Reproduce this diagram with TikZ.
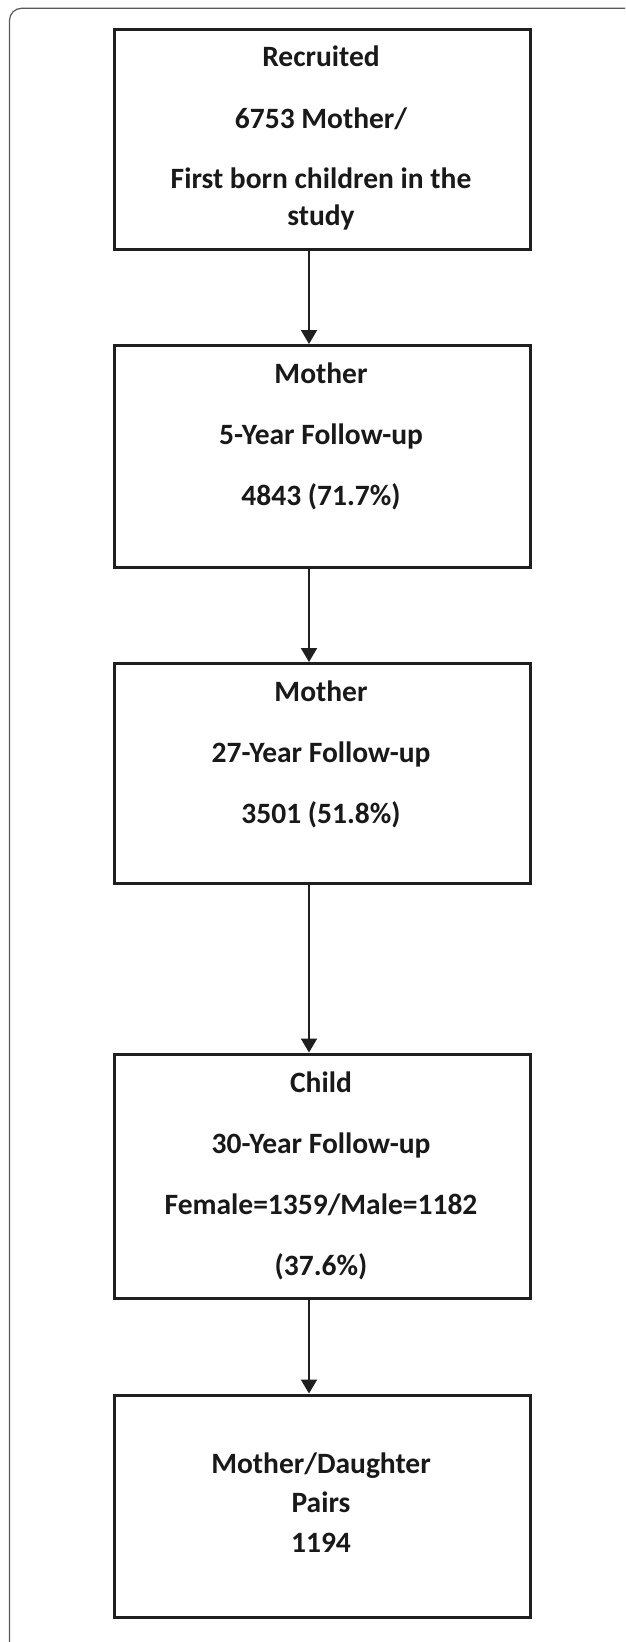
\documentclass[tikz,border=0pt]{standalone}
\usepackage{fontspec}
\setmainfont{Carlito}
\usetikzlibrary{arrows.meta}
\begin{document}
\begin{tikzpicture}[x=1pt,y=-1pt,
  stepbox/.style={draw=black!88, line width=3pt, minimum width=416pt, inner sep=0pt, anchor=north west, fill=white},
  txt/.style={font=\fontsize{29.5}{36}\selectfont\bfseries, anchor=base, inner sep=0pt, text=black!90},
  conn/.style={draw=black!88, line width=2pt, -{Triangle[length=14pt,width=16pt]}},
  frame/.style={draw=black!65, line width=1.2pt, rounded corners=12pt}
]
\useasboundingbox[fill=white] (0,0) rectangle (625,1642);
\draw[frame] (9.5,1642) -- (9.5,8.3) -- (625,8.3);

\node[stepbox, minimum height=220pt]   (b1) at (113,27.5) {};
\node[stepbox, minimum height=221.5pt] (b2) at (113,344) {};
\node[stepbox, minimum height=220pt]   (b3) at (113,662) {};
\node[stepbox, minimum height=244.5pt] (b4) at (113,1052.5) {};
\node[stepbox, minimum height=222pt]   (b5) at (113,1393.5) {};

\node[txt] (t1a) at (321,66.5)  {Recruited};
\node[txt] (t1b) at (321,128)   {6753 Mother/};
\node[txt] (t1c) at (321,188.5) {First born children in the};
\node[txt] (t1d) at (321,225.5) {study};

\node[txt] (t2a) at (321,383) {Mother};
\node[txt] (t2b) at (321,444.5) {5-Year Follow-up};
\node[txt] (t2c) at (321,505.5) {4843 (71.7\%)};

\node[txt] (t3a) at (321,701) {Mother};
\node[txt] (t3b) at (321,762.5) {27-Year Follow-up};
\node[txt] (t3c) at (321,823.5) {3501 (51.8\%)};

\node[txt] (t4a) at (321,1092) {Child};
\node[txt] (t4b) at (321,1153) {30-Year Follow-up};
\node[txt] (t4c) at (321,1214) {Female=1359/Male=1182};
\node[txt] (t4d) at (321,1275) {(37.6\%)};

\node[txt] (t5a) at (321,1473) {Mother/Daughter};
\node[txt] (t5b) at (321,1512) {Pairs};
\node[txt] (t5c) at (321,1552) {1194};

\coordinate (ax) at (309,0);
\draw[conn] (b1.south -| ax) -- (b2.north -| ax);
\draw[conn] (b2.south -| ax) -- (b3.north -| ax);
\draw[conn] (b3.south -| ax) -- (b4.north -| ax);
\draw[conn] (b4.south -| ax) -- (b5.north -| ax);
\end{tikzpicture}
\end{document}
